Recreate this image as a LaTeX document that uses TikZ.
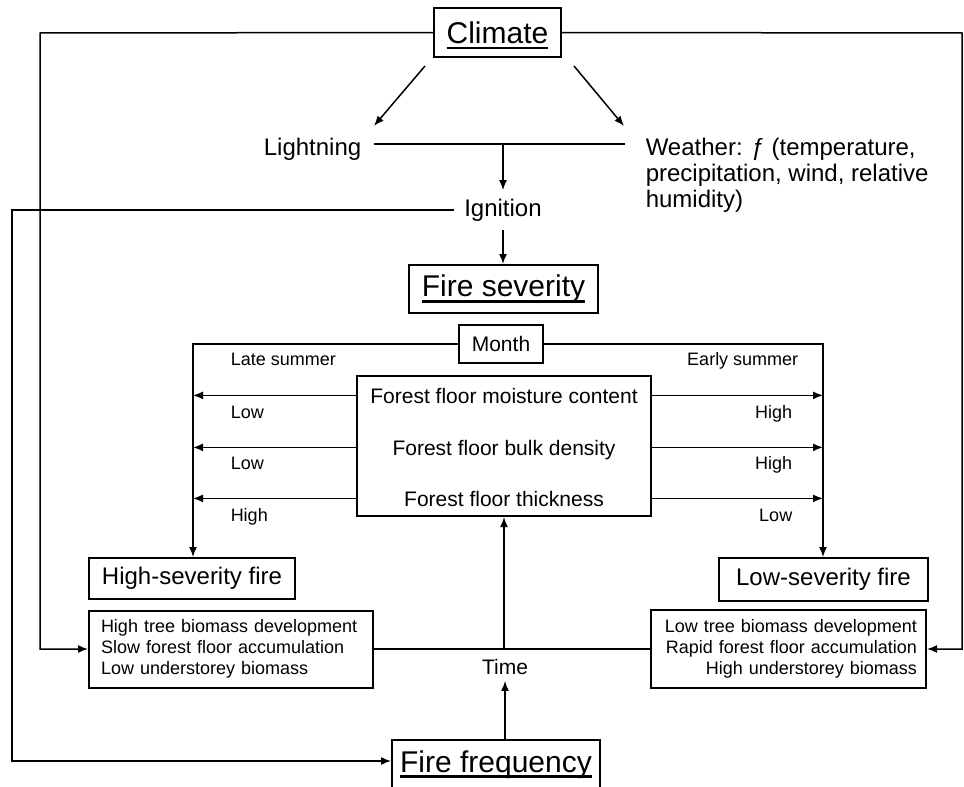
\documentclass[tikz,border=0pt]{standalone}
\usepackage{fontspec}
\setmainfont{Liberation Sans}
\usetikzlibrary{positioning,calc,arrows.meta}
\newcommand{\ulword}[1]{\setbox0\hbox{#1}\rlap{\smash{\rule[-3pt]{\wd0}{1.3pt}}}\box0}
\tikzset{
    every node/.style={font=\fontsize{10.5}{12.6}\selectfont},
    bigbox/.style={draw, line width=1pt, inner sep=0pt, font=\fontsize{15}{18}\selectfont},
    firebox/.style={draw, line width=1pt, inner sep=0pt, font=\fontsize{12}{14}\selectfont},
    sumbox/.style={draw, line width=1pt, inner ysep=0pt, font=\fontsize{9}{10.5}\selectfont},
    midtext/.style={font=\fontsize{12}{13}\selectfont},
    rowtext/.style={anchor=base, text depth=0pt},
    smalltext/.style={inner sep=0pt, font=\fontsize{9}{10.8}\selectfont},
    arrow/.style={-{Latex[length=5pt, width=4pt]}},
}

\begin{document}
\begin{tikzpicture}[x=0.5pt, y=-0.5pt, line width=0.75pt]
  \useasboundingbox (0,0) rectangle (964,787);
  \clip (0,0) rectangle (964,787);
  % climate, ignition
  \node[bigbox, minimum width=63.5pt, minimum height=24.5pt] (climate) at (497.5,32.5) {\ulword{Climate}};
  \node[midtext, anchor=base east, inner xsep=6pt, inner ysep=0pt] (lightning) at (374,155) {Lightning};
  \node[midtext, anchor=north west, align=left, inner xsep=10pt, inner ysep=0pt] (weather) at (625,137)
    {Weather: ƒ (temperature,\\precipitation, wind, relative\\humidity)};
  \node[midtext, inner xsep=5pt, inner ysep=4pt] (ignition) at (503,210) {Ignition};
  \node[bigbox, minimum width=94.5pt, minimum height=24pt] (severity) at (503.5,289) {\ulword{Fire severity}};
  \coordinate (join) at (503,144);
  \coordinate (ltop) at (40,33);
  \coordinate (rtop) at (962,33);
  \coordinate (igl) at (12,210);

  % month bracket and forest floor
  \node[draw, line width=1pt, minimum width=42pt, minimum height=19pt] (month) at (501,344) {Month};
  \node[draw, line width=1pt, minimum width=147pt, minimum height=70pt] (floor) at (504,446) {};
  \node[rowtext] (moist) at (504,403) {Forest floor moisture content};
  \node[rowtext] (bulk) at (504,455) {Forest floor bulk density};
  \node[rowtext] (thick) at (504,506) {Forest floor thickness};
  \coordinate (lvert) at (193,344);
  \coordinate (rvert) at (823,344);
  \node[smalltext, anchor=base west] (late) at (230,365) {Late summer};
  \node[smalltext, anchor=base east] (early) at (799,365) {Early summer};
  \node[smalltext, anchor=base west] (lmoist) at (230,418) {Low};
  \node[smalltext, anchor=base west] (lbulk) at (230,469) {Low};
  \node[smalltext, anchor=base west] (lthick) at (230,521) {High};
  \node[smalltext, anchor=base east] (rmoist) at (793,418) {High};
  \node[smalltext, anchor=base east] (rbulk) at (793,469) {High};
  \node[smalltext, anchor=base east] (rthick) at (793,521) {Low};

  % outcomes
  \node[firebox, minimum width=103pt, minimum height=20.5pt] (highfire) at (192,578.5) {High-severity fire};
  \node[firebox, minimum width=104.5pt, minimum height=21.5pt] (lowfire) at (823.5,579.5) {Low-severity fire};
  \node[sumbox, inner xsep=6pt, text width=130pt, align=left, minimum height=38.5pt] (highsum) at (231,649)
    {High tree biomass development\\Slow forest floor accumulation\\Low understorey biomass};
  \node[sumbox, inner xsep=4.5pt, text width=128.5pt, align=right, minimum height=39pt] (lowsum) at (788.5,649)
    {Low tree biomass development\\Rapid forest floor accumulation\\High understorey biomass};
  \node[inner sep=3pt] (time) at (505,666.5) {Time};
  \coordinate (tjoin) at (504,649);
  \node[bigbox, anchor=north, minimum width=104pt, text height=12pt, text depth=6pt, inner ysep=4pt] (freq) at (496,739)
    {\ulword{Fire frequency}};

  % connectors
  \draw[arrow] ($(climate.south west)+(-8,8)$) -- ($(lightning.north east)+(0,-11)$);
  \draw[arrow] ($(climate.south east)+(12,8)$) -- ($(weather.north west)+(-1,-11)$);
  \draw (lightning.east |- join) -- (weather.west |- join);
  \draw[arrow] (join) -- (join |- ignition.north);
  \draw[arrow] (ignition.south) -- (severity.north -| ignition);
  \draw[arrow] (climate.west) -- (ltop) |- (highsum.west);
  \draw[arrow] (climate.east) -- (rtop) |- (lowsum.east);
  \draw[arrow] (ignition.west) -- (igl) |- ($(freq.north west)+(0,22)$);
  \draw[arrow] (month.west) -- (lvert) -- (lvert |- highfire.north);
  \draw[arrow] (month.east) -- (rvert) -- (rvert |- lowfire.north);
  \draw[arrow] (floor.west |- moist) -- (lvert |- moist);
  \draw[arrow] (floor.west |- bulk) -- (lvert |- bulk);
  \draw[arrow] (floor.west |- thick) -- (lvert |- thick);
  \draw[arrow] (floor.east |- moist) -- (rvert |- moist);
  \draw[arrow] (floor.east |- bulk) -- (rvert |- bulk);
  \draw[arrow] (floor.east |- thick) -- (rvert |- thick);
  \draw (highsum.east) -- (lowsum.west);
  \draw[arrow] (tjoin) -- (floor.south);
  \draw[arrow] (freq.north -| time) -- (time.south);
\end{tikzpicture}
\end{document}
